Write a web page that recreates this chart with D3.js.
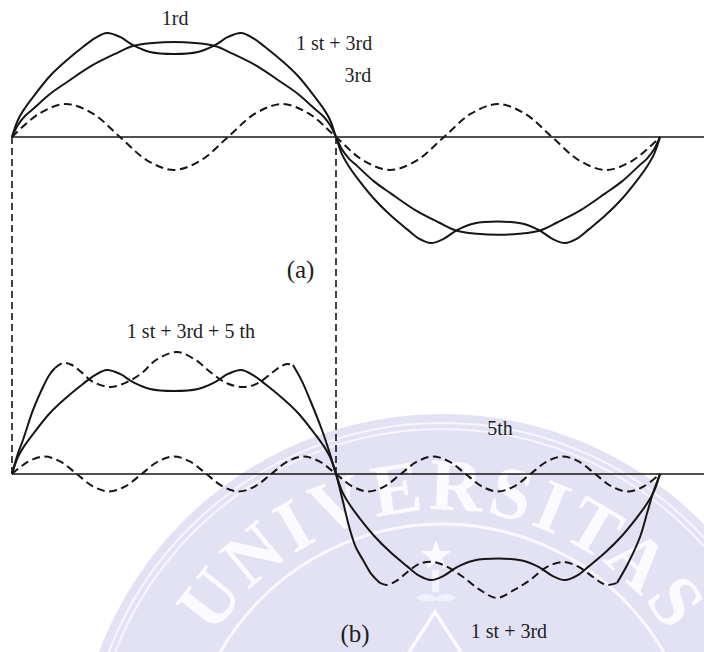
<!DOCTYPE html>
<html>
<head>
<meta charset="utf-8">
<script src="https://cdn.jsdelivr.net/npm/d3@7"></script>
<style>
  html, body { margin: 0; padding: 0; background: #fff; }
  svg { display: block; }
</style>
</head>
<body>
<svg id="chart" width="704" height="652"></svg>
<script>
// ---- Data: phase in degrees (one full period 0..360), amplitude relative to the fundamental peak ----

// Fundamental (labelled "1rd" in panel a)
const fundamental = [
  [0, 0], [3.3, 0.126], [7.2, 0.221], [11.7, 0.295], [21.1, 0.453], [30.6, 0.579], [45, 0.758],
  [57.2, 0.874], [67.2, 0.958], [78.3, 0.989], [90, 1.0], [101.7, 0.989], [112.8, 0.958],
  [122.8, 0.874], [135, 0.758], [149.4, 0.579], [158.9, 0.453], [168.3, 0.295], [172.8, 0.221],
  [176.7, 0.126], [180, 0],
  [183.3, -0.13], [187.2, -0.228], [191.7, -0.304], [201.1, -0.467], [210.6, -0.596], [225, -0.781],
  [237.2, -0.9], [247.2, -0.987], [258.3, -1.019], [270, -1.03], [281.7, -1.019], [292.8, -0.987],
  [302.8, -0.9], [315, -0.781], [329.4, -0.596], [338.9, -0.467], [348.3, -0.304], [352.8, -0.228],
  [356.7, -0.13], [360, 0]
];

// Third harmonic
const third = [
  [0, 0], [15, 0.245], [30, 0.347], [45, 0.245], [60, 0], [75, -0.245], [90, -0.347], [105, -0.245],
  [120, 0], [135, 0.245], [150, 0.347], [165, 0.245], [180, 0], [195, -0.245], [210, -0.347],
  [225, -0.245], [240, 0], [255, 0.245], [270, 0.347], [285, 0.245], [300, 0], [315, -0.245],
  [330, -0.347], [345, -0.245], [360, 0]
];

// Fifth harmonic
const fifth = [
  [0, 0], [9, 0.13], [18, 0.184], [27, 0.13], [36, 0], [45, -0.13], [54, -0.184], [63, -0.13],
  [72, 0], [81, 0.13], [90, 0.184], [99, 0.13], [108, 0], [117, -0.13], [126, -0.184], [135, -0.13],
  [144, 0], [153, 0.13], [162, 0.184], [171, 0.13], [180, 0], [189, -0.13], [198, -0.184], [207, -0.13],
  [216, 0], [225, 0.13], [234, 0.184], [243, 0.13], [252, 0], [261, -0.13], [270, -0.184], [279, -0.13],
  [288, 0], [297, 0.13], [306, 0.184], [315, 0.13], [324, 0], [333, -0.13], [342, -0.184], [351, -0.13],
  [360, 0]
];

// 1st + 3rd
const firstPlusThird = [
  [0, 0], [3.3, 0.179], [7.2, 0.305], [11.7, 0.421], [21.1, 0.642], [30.6, 0.811], [39.4, 0.947],
  [46.1, 1.042], [52.8, 1.095], [60, 1.053], [67.2, 0.968], [76.7, 0.895], [90, 0.874],
  [103.3, 0.895], [112.8, 0.968], [120, 1.053], [127.2, 1.095], [133.9, 1.042], [140.6, 0.947],
  [149.4, 0.811], [158.9, 0.642], [168.3, 0.421], [172.8, 0.305], [176.7, 0.179], [180, 0],
  [183.3, -0.18], [187.2, -0.31], [191.7, -0.43], [201.1, -0.65], [210.6, -0.83], [219.4, -0.97],
  [226.1, -1.07], [232.8, -1.116], [240, -1.07], [247.2, -0.98], [256.7, -0.91], [270, -0.89],
  [283.3, -0.91], [292.8, -0.98], [300, -1.07], [307.2, -1.116], [313.9, -1.07], [320.6, -0.97],
  [329.4, -0.83], [338.9, -0.65], [348.3, -0.43], [352.8, -0.31], [356.7, -0.18], [360, 0]
];

// 1st + 3rd + 5th
const firstThirdFifth = [
  [0, 0], [3, 0.2], [6.1, 0.358], [11.7, 0.674], [17.2, 0.916], [21, 1.05], [23.9, 1.116],
  [28.3, 1.168], [33, 1.15], [38, 1.08], [45, 0.97], [54.4, 0.916], [63, 0.96], [72, 1.06],
  [80, 1.2], [91.7, 1.284], [102, 1.2], [111, 1.06], [120, 0.95], [129.4, 0.916], [137, 0.96],
  [145, 1.074], [150, 1.14], [152.8, 1.158], [156.1, 1.147], [161, 0.98], [165.6, 0.779],
  [172.2, 0.463], [176, 0.25], [180, 0],
  [184, -0.3], [187.8, -0.589], [191, -0.77], [195, -0.905], [200, -1.063], [204.4, -1.147],
  [208.3, -1.168], [214, -1.12], [221, -1.011], [227, -0.94], [233.9, -0.926], [241, -0.97],
  [250.6, -1.084], [260, -1.22], [269.4, -1.305], [279, -1.22], [287.8, -1.116], [297, -0.98],
  [306.1, -0.926], [314, -0.97], [322.8, -1.084], [327, -1.14], [330.6, -1.168], [336.1, -1.147],
  [342, -0.95], [348.9, -0.663], [353, -0.4], [356.1, -0.2], [360, 0]
];

// Text labels: [text, phase, amplitude, panel, font size]
const labels = [
  ["1rd", 90.6, 1.179, "a", 20],
  ["1 st + 3rd", 178.9, 0.916, "a", 20],
  ["3rd", 192.2, 0.579, "a", 20],
  ["(a)", 160.3, -1.484, "a", 25],
  ["1 st + 3rd + 5 th", 99.4, 1.432, "b", 20],
  ["5th", 271.1, 0.411, "b", 20],
  ["(b)", 190.6, -1.768, "b", 25],
  ["1 st + 3rd", 276.1, -1.726, "b", 20]
];

// ---- Drawing ----
const W = 704, H = 652;
const svg = d3.select("#chart");
const INK = "#161616";
const SERIF = "'Liberation Serif', 'Times New Roman', serif";

svg.append("rect").attr("width", W).attr("height", H).attr("fill", "#fff");

// Seal in the background
(function seal() {
  const cx = 442, cy = 780;
  const g = svg.append("g");
  g.append("circle").attr("cx", cx).attr("cy", cy).attr("r", 366).attr("fill", "#e2e2f4");
  [357, 351].forEach(r => g.append("circle").attr("cx", cx).attr("cy", cy).attr("r", r)
    .attr("fill", "none").attr("stroke", "#f6f6fc").attr("stroke-width", 2));
  g.append("circle").attr("cx", cx).attr("cy", cy).attr("r", 256)
    .attr("fill", "none").attr("stroke", "#f8f8fd").attr("stroke-width", 3);
  const rt = 270;
  g.append("path").attr("id", "sealArc").attr("fill", "none")
    .attr("d", `M ${cx - rt},${cy} A ${rt} ${rt} 0 0 1 ${cx + rt},${cy}`);
  g.append("text")
    .attr("font-family", SERIF).attr("font-size", 74).attr("font-weight", "bold")
    .attr("fill", "#fbfbff").attr("letter-spacing", 4)
    .append("textPath").attr("href", "#sealArc").attr("startOffset", "50%")
    .attr("text-anchor", "middle").text("UNIVERSITAS");
  // star
  const sx = 436, sy = 556, ro = 16, ri = 6.5;
  const pts = d3.range(10).map(i => {
    const a = -Math.PI / 2 + i * Math.PI / 5, r = i % 2 ? ri : ro;
    return [sx + r * Math.cos(a), sy + r * Math.sin(a)];
  });
  g.append("path").attr("d", "M" + pts.join("L") + "Z").attr("fill", "#fafaff");
  g.append("rect").attr("x", 432).attr("y", 570).attr("width", 7).attr("height", 22).attr("fill", "#f4f4fc");
  g.append("path").attr("d", "M416,598 Q426,590 436,598 Q446,590 456,598 Q446,604 436,600 Q426,604 416,598Z")
    .attr("fill", "#eef2fb");
  g.append("path").attr("d", "M378,700 L435,612 L492,700")
    .attr("fill", "none").attr("stroke", "#fafaff").attr("stroke-width", 3.5);
})();

const x = d3.scaleLinear().domain([0, 360]).range([12, 660]);
const yA = d3.scaleLinear().domain([-1, 1]).range([232, 42]);
const yB = d3.scaleLinear().domain([-1, 1]).range([569, 379]);
const yOf = { a: yA, b: yB };

const lineFor = y => d3.line().x(d => x(d[0])).y(d => y(d[1])).curve(d3.curveCatmullRom.alpha(0.5));

function draw(data, y, dashed) {
  svg.append("path").datum(data).attr("d", lineFor(y))
    .attr("fill", "none").attr("stroke", INK).attr("stroke-width", 2)
    .attr("stroke-linejoin", "round")
    .attr("stroke-dasharray", dashed ? "8,4.5" : null);
}

// baselines
[yA, yB].forEach(y => svg.append("line")
  .attr("x1", x(0)).attr("x2", W).attr("y1", y(0)).attr("y2", y(0))
  .attr("stroke", INK).attr("stroke-width", 1.7));

// vertical dashed guides linking the two panels
[0, 180].forEach(p => svg.append("line")
  .attr("x1", x(p)).attr("x2", x(p)).attr("y1", yA(0)).attr("y2", yB(0))
  .attr("stroke", INK).attr("stroke-width", 1.6).attr("stroke-dasharray", "7,4"));

// panel (a)
draw(third, yA, true);
draw(fundamental, yA, false);
draw(firstPlusThird, yA, false);

// panel (b)
draw(fifth, yB, true);
draw(firstPlusThird, yB, false);
const solidSpans = [[0, 23.9], [156.1, 204.4], [336.1, 360]];
const dashedSpans = [[23.9, 156.1], [204.4, 336.1]];
solidSpans.forEach(([a, b]) => draw(firstThirdFifth.filter(d => d[0] >= a && d[0] <= b), yB, false));
dashedSpans.forEach(([a, b]) => draw(firstThirdFifth.filter(d => d[0] >= a && d[0] <= b), yB, true));

// labels
labels.forEach(([t, p, v, panel, fs]) => svg.append("text")
  .attr("x", x(p)).attr("y", yOf[panel](v))
  .attr("text-anchor", "middle").attr("font-family", SERIF).attr("font-size", fs)
  .attr("fill", "#1e1e1e").text(t));
</script>
</body>
</html>
